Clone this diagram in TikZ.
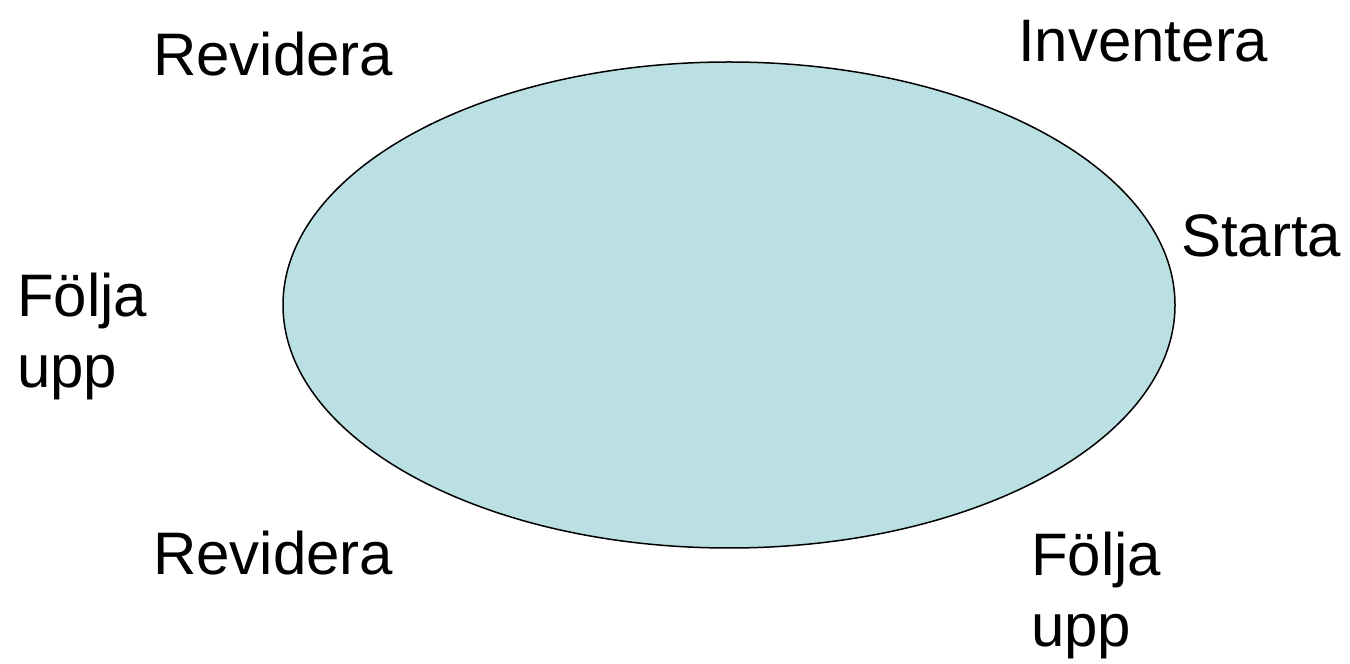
\documentclass[tikz,border=0pt]{standalone}
\usepackage{fontspec}
\setmainfont{Liberation Sans}
\usetikzlibrary{shapes.geometric}
\definecolor{ellfill}{HTML}{BBE0E3}
\begin{document}
\begin{tikzpicture}[x=1pt,y=1pt,
  lbl/.style={anchor=base west,inner sep=0pt,align=left,font=\fontsize{60}{71}\selectfont}]
\useasboundingbox (0,0) rectangle (1350,664);
\node[draw=black,fill=ellfill,line width=1.5pt,ellipse,minimum width=892pt,minimum height=486pt,inner sep=0pt] (ell) at (729,359) {};
\node[lbl] (rev1) at (153,588) {Revidera};
\node[lbl] (inv) at (1018,602) {Inventera};
\node[lbl] (sta) at (1181,407) {Starta};
\node[lbl] (fol1) at (17,276) {Följa\\upp};
\node[lbl] (rev2) at (153,89) {Revidera};
\node[lbl] (fol2) at (1031,17) {Följa\\upp};
\end{tikzpicture}
\end{document}
